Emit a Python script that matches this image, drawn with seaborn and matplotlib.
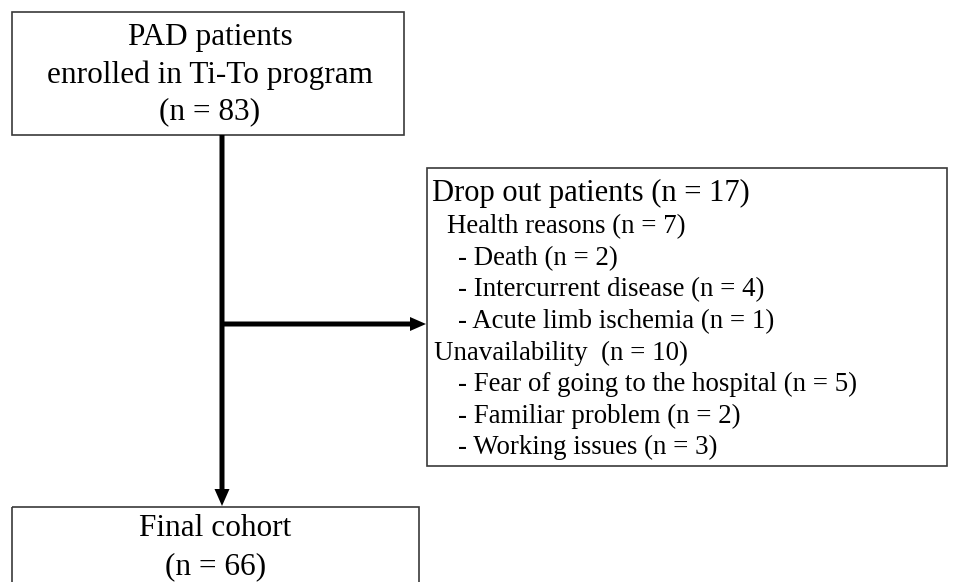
import matplotlib
matplotlib.use("Agg")
import matplotlib.pyplot as plt
from matplotlib.patches import Rectangle
import seaborn as sns

sns.set_theme(style="white")
plt.rcParams['font.family'] = ['Liberation Serif', 'DejaVu Serif']

# ---- content ----
top_lines = ["PAD patients", "enrolled in Ti-To program", "(n = 83)"]
dropout_title = "Drop out patients (n = 17)"
dropout_lines = [
    (1, "Health reasons (n = 7)"),
    (2, "- Death (n = 2)"),
    (2, "- Intercurrent disease (n = 4)"),
    (2, "- Acute limb ischemia (n = 1)"),
    (0, "Unavailability  (n = 10)"),
    (2, "- Fear of going to the hospital (n = 5)"),
    (2, "- Familiar problem (n = 2)"),
    (2, "- Working issues (n = 3)"),
]
final_lines = ["Final cohort", "(n = 66)"]

W, H = 960, 582
fig = plt.figure(figsize=(W / 100, H / 100), dpi=100)
ax = fig.add_axes([0, 0, 1, 1])
ax.set_xlim(0, W)
ax.set_ylim(H, 0)
ax.axis("off")

edge = "#3a3a3a"
# boxes (x0, y0, x1, y1)
top_box = (12, 12, 404, 135)
drop_box = (427, 168, 947, 466)
final_box = (12, 507, 419, 600)
for (x0, y0, x1, y1) in (top_box, drop_box, final_box):
    ax.add_patch(Rectangle((x0, y0), x1 - x0, y1 - y0, fill=False,
                           edgecolor=edge, linewidth=1.2, clip_on=False))

# top text
cx = (top_box[0] + top_box[2]) / 2 + 2
for i, t in enumerate(top_lines):
    ax.text(cx, 38 + i * 37, t, ha="center", va="center", fontsize=22.5, color="black")

# dropout text
ax.text(432, 193, dropout_title, ha="left", va="center", fontsize=22, color="black")
indent = {0: 434, 1: 447, 2: 458}
for i, (lvl, t) in enumerate(dropout_lines):
    ax.text(indent[lvl], 227 + i * 31.5, t, ha="left", va="center",
            fontsize=19.4, color="black")

# final text
fx = (final_box[0] + final_box[2]) / 2
for i, t in enumerate(final_lines):
    ax.text(fx, 529 + i * 38, t, ha="center", va="center", fontsize=22.5, color="black")

# arrows
vx = 222
ax.arrow(vx, 135, 0, 506 - 135, width=5, head_width=15, head_length=17,
         length_includes_head=True, color="black", linewidth=0)
ax.arrow(vx, 324, 426 - vx, 0, width=5, head_width=14, head_length=16,
         length_includes_head=True, color="black", linewidth=0)

fig.savefig("out.png", dpi=100, facecolor="white")
